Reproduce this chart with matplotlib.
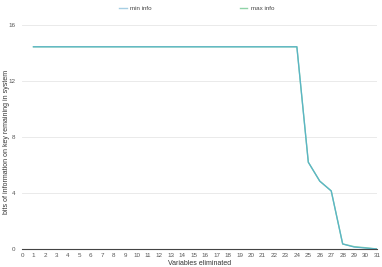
import matplotlib
matplotlib.use("Agg")
import matplotlib.pyplot as plt
from matplotlib.lines import Line2D

x_vals = list(range(1, 32))
max_info = [14.45] * 24 + [6.2, 4.85, 4.15, 0.36, 0.17, 0.09, 0.0]
min_info = [14.45] * 24 + [6.2, 4.85, 4.15, 0.36, 0.14, 0.07, 0.0]
y_ticks = [0, 4, 8, 12, 16]
x_ticks = list(range(0, 32))

plt.rcParams['font.family'] = ['Liberation Sans', 'DejaVu Sans']
fig = plt.figure(figsize=(3.82, 2.67), dpi=100)
ax = fig.add_axes([0.0576, 0.0674, 0.9294, 0.8386])

c_min = '#a6cee3'
c_max = '#8fd3a8'
ax.plot(x_vals, max_info, color=c_max, lw=1.0)
ax.plot(x_vals, min_info, color='#5ab4c8', lw=0.9)

ax.set_xlim(0, 31)
ax.set_ylim(0, 16)
ax.set_yticks(y_ticks)
ax.set_xticks(x_ticks)
ax.tick_params(axis='both', labelsize=4.5, colors='#555555', length=0, pad=3)
ax.tick_params(axis='y', pad=5)
ax.grid(axis='y', color='#e6e6e6', lw=0.6)
ax.set_axisbelow(True)
for s in ['top', 'right', 'left']:
    ax.spines[s].set_visible(False)
ax.spines['bottom'].set_color('#444444')
ax.spines['bottom'].set_linewidth(0.8)

ax.set_xlabel('Variables eliminated', fontsize=5, color='#333333', labelpad=1.5)
fig.text(0.016, 0.47, 'bits of information on key remaining in system', fontsize=5,
         color='#333333', rotation=90, ha='center', va='center')

handles = [Line2D([0], [0], color=c_min, lw=1.0), Line2D([0], [0], color=c_max, lw=1.0)]
fig.legend(handles, ['min info', 'max info'], loc='upper center', bbox_to_anchor=(0.515, 1.0),
           ncol=2, frameon=False, fontsize=4.5, handlelength=1.2, columnspacing=14,
           labelcolor='#444444', handletextpad=0.6)

fig.savefig('out.png', dpi=100)
